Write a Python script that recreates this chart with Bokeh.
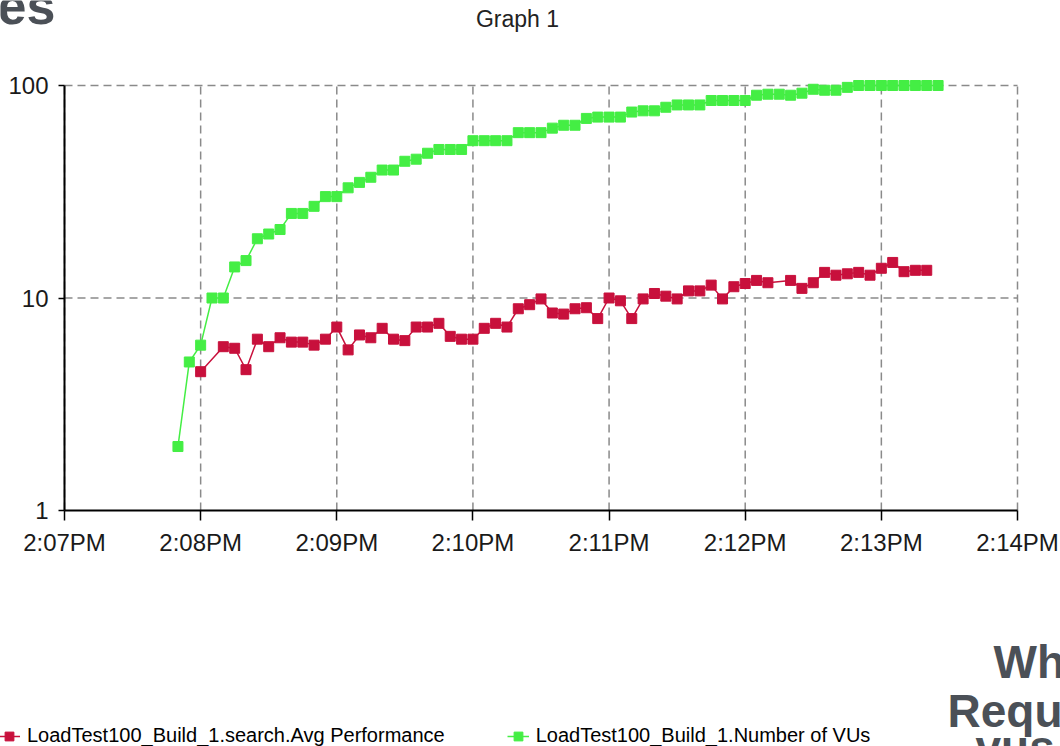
from bokeh.plotting import figure
from bokeh.models import FixedTicker, Label, Legend, LegendItem
from bokeh.embed import file_html
from bokeh.resources import INLINE

# seconds after 2:07 PM
red_t = [60, 70, 75, 80, 85, 90, 95, 100, 105, 110, 115, 120, 125, 130, 135, 140,
         145, 150, 155, 160, 165, 170, 175, 180, 185, 190, 195, 200, 205, 210, 215,
         220, 225, 230, 235, 240, 245, 250, 255, 260, 265, 270, 275, 280, 285, 290,
         295, 300, 305, 310, 320, 325, 330, 335, 340, 345, 350, 355, 360, 365, 370,
         375, 380]
red_v = [4.5, 5.9, 5.8, 4.6, 6.4, 5.9, 6.5, 6.2, 6.2, 6.0, 6.4, 7.3, 5.7, 6.7, 6.5,
         7.2, 6.4, 6.3, 7.3, 7.3, 7.6, 6.6, 6.4, 6.4, 7.2, 7.6, 7.3, 8.9, 9.3, 9.9,
         8.5, 8.4, 8.9, 9.0, 8.0, 10.0, 9.7, 8.0, 9.9, 10.5, 10.2, 9.9, 10.8, 10.8,
         11.5, 9.9, 11.3, 11.7, 12.1, 11.8, 12.1, 11.1, 11.8, 13.2, 12.8, 13.0, 13.2,
         12.8, 13.8, 14.7, 13.3, 13.5, 13.5]

green_t = [50, 55, 60, 65, 70, 75, 80, 85, 90, 95, 100, 105, 110, 115, 120, 125,
           130, 135, 140, 145, 150, 155, 160, 165, 170, 175, 180, 185, 190, 195,
           200, 205, 210, 215, 220, 225, 230, 235, 240, 245, 250, 255, 260, 265,
           270, 275, 280, 285, 290, 295, 300, 305, 310, 315, 320, 325, 330, 335,
           340, 345, 350, 355, 360, 365, 370, 375, 380, 385]
green_v = [2, 5, 6, 10, 10, 14, 15, 19, 20, 21, 25, 25, 27, 30, 30, 33, 35, 37, 40,
           40, 44, 45, 48, 50, 50, 50, 55, 55, 55, 55, 60, 60, 60, 63, 65, 65, 70,
           71, 71, 71, 75, 76, 76, 79, 81, 81, 81, 85, 85, 85, 85, 90, 91, 91, 90,
           92, 96, 95, 95, 98, 100, 100, 100, 100, 100, 100, 100, 100]

x_ticks = [0, 60, 120, 180, 240, 300, 360, 420]
x_labels = ["2:07PM", "2:08PM", "2:09PM", "2:10PM", "2:11PM", "2:12PM", "2:13PM", "2:14PM"]
y_ticks = [1, 10, 100]
y_labels = ["1", "10", "100"]

red_name = "LoadTest100_Build_1.search.Avg Performance"
green_name = "LoadTest100_Build_1.Number of VUs"

RED = "#c8103c"
GREEN = "#44ee44"
FONT = "Liberation Sans"
SLIDE = "#4b5057"

# canvas and where the plotting area sits on it (pixels)
W, H = 1060, 746
PL, PR, PT, PB = 64, 1017, 85, 510

# the frame covers the whole canvas; extend the ranges so the data area lands on PL..PR, PT..PB
x0, x1 = x_ticks[0], x_ticks[-1]
sx = (PR - PL) / (x1 - x0)
xr = (x0 - PL / sx, x1 + (W - PR) / sx)
ly0, ly1 = 0.0, 2.0  # log10 of 1 and 100
sy = (PB - PT) / (ly1 - ly0)
yr = (10 ** (ly0 - (H - PB) / sy), 10 ** (ly1 + PT / sy))

p = figure(width=W, height=H, x_range=xr, y_range=yr, y_axis_type="log",
           output_backend="svg", toolbar_location=None)
p.min_border = 0
p.min_border_left = p.min_border_right = p.min_border_top = p.min_border_bottom = 0
p.title.visible = False
p.outline_line_color = None
p.background_fill_color = "white"
p.border_fill_color = "white"
p.xgrid.visible = False
p.ygrid.visible = False

p.xaxis.ticker = FixedTicker(ticks=x_ticks)
p.xaxis.major_label_overrides = {t: l for t, l in zip(x_ticks, x_labels)}
p.xaxis.fixed_location = y_ticks[0]
p.xaxis.bounds = (x_ticks[0], x_ticks[-1])
p.yaxis.ticker = FixedTicker(ticks=y_ticks)
p.yaxis.major_label_overrides = {t: l for t, l in zip(y_ticks, y_labels)}
p.yaxis.fixed_location = x_ticks[0]
p.yaxis.bounds = (y_ticks[0], y_ticks[-1])

for ax in (p.xaxis, p.yaxis):
    ax.axis_line_color = "black"
    ax.axis_line_width = 2
    ax.major_tick_line_color = "black"
    ax.major_tick_line_width = 1.5
    ax.minor_tick_line_color = None
    ax.major_tick_in = 0
    ax.major_label_text_font = FONT
    ax.major_label_text_font_size = "24px"
    ax.major_label_text_color = "#1a1a1a"
p.xaxis.major_tick_out = 10
p.xaxis.major_label_standoff = 8
p.yaxis.major_tick_out = 6
p.yaxis.major_label_standoff = 10

# dashed grid, bounded to the plotting area
GRID = dict(line_color="#8a8a8a", line_width=1.5, line_dash="8 5", level="underlay")
p.segment(x0=x_ticks, y0=[y_ticks[0]] * len(x_ticks), x1=x_ticks,
          y1=[y_ticks[-1]] * len(x_ticks), **GRID)
p.segment(x0=[x_ticks[0]] * (len(y_ticks) - 1), y0=y_ticks[1:],
          x1=[x_ticks[-1]] * (len(y_ticks) - 1), y1=y_ticks[1:], **GRID)

r_line = p.line(red_t, red_v, color=RED, line_width=1.5)
r_pts = p.scatter(red_t, red_v, marker="square", size=10, color=RED)
g_line = p.line(green_t, green_v, color=GREEN, line_width=1.5)
g_pts = p.scatter(green_t, green_v, marker="square", size=10, color=GREEN)

legend = Legend(items=[LegendItem(label=red_name, renderers=[r_line, r_pts]),
                       LegendItem(label=green_name, renderers=[g_line, g_pts])],
                orientation="horizontal", location=(-2, -1),
                glyph_width=22, glyph_height=22, label_standoff=7, spacing=62,
                padding=0, margin=0, border_line_color=None, background_fill_alpha=0,
                label_text_font=FONT, label_text_font_size="20px",
                label_text_color="black", label_height=18)
p.add_layout(legend)


def label(text, px, py, size, bold=False, color="black", align="left"):
    # px: left (or centre) x, py: vertical middle of the capitals; canvas pixels from top-left
    p.add_layout(Label(x=px, y=H - py, x_units="screen", y_units="screen",
                       text=text, text_font=FONT, text_font_size=size,
                       text_font_style="bold" if bold else "normal",
                       text_color=color, text_align=align, text_baseline="middle"))


label("Graph 1", 517, 18, "23px", color="#222222", align="center")
label("es", -3, 5, "52px", bold=True, color=SLIDE)
label("Wh", 993, 661, "46px", bold=True, color=SLIDE)
label("Requ", 947, 710, "46px", bold=True, color=SLIDE)
label("vus", 975, 746, "46px", bold=True, color=SLIDE)

open("out.html", "w").write(file_html(p, INLINE))
